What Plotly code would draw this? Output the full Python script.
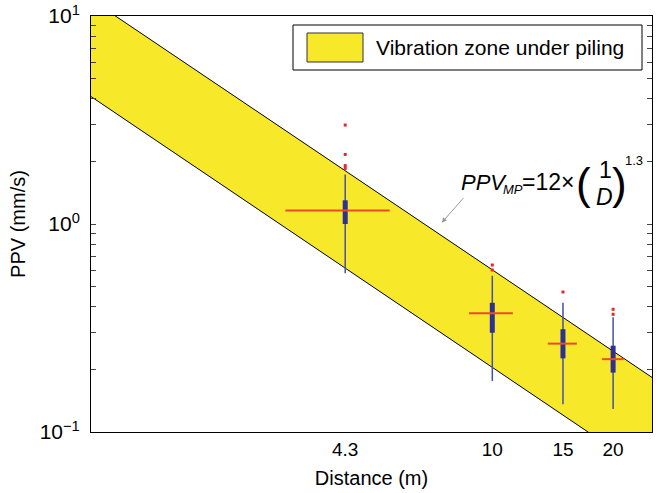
import plotly.graph_objects as go

# vibration zone (band edges read at D = 1 m and D = 25 m)
band_d = [1, 25]
band_upper = [12.0, 0.183]
band_lower = [4.1, 0.062]

# measured PPV statistics per distance
distances = [4.3, 10, 15, 20]
whisker_low = [0.58, 0.176, 0.136, 0.129]
box_low = [1.0, 0.300, 0.226, 0.193]
box_high = [1.30, 0.418, 0.312, 0.260]
whisker_high = [1.73, 0.564, 0.418, 0.356]
mean_ppv = [1.16, 0.372, 0.266, 0.224]
outlier_d = [4.3, 4.3, 4.3, 4.3, 10, 10, 15, 20, 20]
outlier_ppv = [2.99, 2.16, 1.91, 1.85, 0.635, 0.601, 0.471, 0.389, 0.368]

x_ticks = [4.3, 10, 15, 20]
x_tick_text = ['4.3', '10', '15', '20']

MEAN_HALF = 1.25
FONT = 'Liberation Sans, Arial, sans-serif'
YELLOW = '#f8e82a'

# plot area in pixels (body margin is removed below)
L, R, T, B = 91, 652, 16, 432
W, H = 661, 493


def paper(px, py):
    return (px - L) / (R - L), (B - py) / (B - T)


def segments(xs0, xs1, ys0, ys1):
    x, y = [], []
    for a, b, c, d in zip(xs0, xs1, ys0, ys1):
        x += [a, b, None]
        y += [c, d, None]
    return x, y


fig = go.Figure()

fig.add_trace(go.Scatter(x=band_d, y=band_lower, mode='lines',
                         line=dict(color='black', width=1), showlegend=False))
fig.add_trace(go.Scatter(x=band_d, y=band_upper, mode='lines', fill='tonexty',
                         fillcolor=YELLOW, line=dict(color='black', width=1),
                         showlegend=False))

wx, wy = segments(distances, distances, whisker_low, whisker_high)
fig.add_trace(go.Scatter(x=wx, y=wy, mode='lines',
                         line=dict(color='#4450a8', width=1.5), showlegend=False))

bx, by = segments(distances, distances, box_low, box_high)
fig.add_trace(go.Scatter(x=bx, y=by, mode='lines',
                         line=dict(color='#2e3192', width=5), showlegend=False))

mx, my = segments([d - MEAN_HALF for d in distances], [d + MEAN_HALF for d in distances],
                  mean_ppv, mean_ppv)
fig.add_trace(go.Scatter(x=mx, y=my, mode='lines',
                         line=dict(color='#ee4a2a', width=2), showlegend=False))

fig.add_trace(go.Scatter(x=outlier_d, y=outlier_ppv, mode='markers',
                         marker=dict(color='#e8262b', size=3, symbol='square'),
                         showlegend=False))

# y ticks: decades labelled, minor ticks unlabelled
y_tickvals, y_ticktext = [], []
for e in [-1, 0]:
    for m in range(1, 10):
        y_tickvals.append(m * 10 ** e)
        y_ticktext.append('10<sup>%s</sup>' % ('\u22121' if e == -1 else '0') if m == 1 else '')
y_tickvals.append(10)
y_ticktext.append('10<sup>1</sup>')

fig.update_xaxes(type='log', range=[0, 1.39794], tickvals=x_ticks, ticktext=x_tick_text,
                 ticks='', showline=True, linecolor='black', linewidth=1, mirror=True,
                 showgrid=False, zeroline=False, automargin=False,
                 title=dict(text='Distance (m)', font=dict(size=20, family=FONT, color='black'),
                            standoff=12),
                 tickfont=dict(size=19, family=FONT, color='black'))
fig.update_yaxes(type='log', range=[-1, 1], tickvals=y_tickvals, ticktext=y_ticktext,
                 ticks='inside', ticklen=5, tickcolor='#444', showline=True,
                 linecolor='black', linewidth=1, mirror='ticks',
                 showgrid=False, zeroline=False, automargin=False,
                 ticklabelstandoff=6, ticklabeloverflow='allow',
                 title=dict(text='PPV (mm/s)', font=dict(size=20, family=FONT, color='black'),
                            standoff=8),
                 tickfont=dict(size=21, family=FONT, color='black'))

# legend drawn by hand
lx0, ly0 = paper(293, 70)
lx1, ly1 = paper(642, 25)
sx0, sy0 = paper(307, 62)
sx1, sy1 = paper(363, 33)
shapes = [
    dict(type='rect', xref='paper', yref='paper', x0=lx0, y0=ly0, x1=lx1, y1=ly1,
         fillcolor='white', line=dict(color='black', width=1)),
    dict(type='rect', xref='paper', yref='paper', x0=sx0, y0=sy0, x1=sx1, y1=sy1,
         fillcolor=YELLOW, line=dict(color='#333', width=1)),
]

annotations = []


def text_at(px, py, text, size, anchor='left'):
    x, y = paper(px, py)
    annotations.append(dict(xref='paper', yref='paper', x=x, y=y, text=text,
                            showarrow=False, xanchor=anchor, yanchor='middle',
                            borderpad=0,
                            font=dict(size=size, family=FONT, color='black')))


text_at(375, 48, 'Vibration zone under piling', 21)

# formula
text_at(460, 182, '<i>PPV</i>', 22)
text_at(502, 190, '<i>MP</i>', 13)
text_at(521, 182, '=12\u00d7', 23)
text_at(583, 183, '(', 44, 'center')
text_at(605, 170, '1', 23, 'center')
text_at(604, 197, '<i>D</i>', 23, 'center')
text_at(619, 183, ')', 44, 'center')
text_at(624, 160, '1.3', 13)

hx, hy = paper(441.7, 222.7)
annotations.append(dict(xref='paper', yref='paper', x=hx, y=hy, text='',
                        showarrow=True, arrowhead=2, arrowsize=1, arrowwidth=1,
                        arrowcolor='#999999', ax=23, ay=-26))

fig.update_layout(width=W, height=H,
                  margin=dict(l=L, r=W - R, t=T, b=H - B),
                  plot_bgcolor='white', paper_bgcolor='white',
                  shapes=shapes, annotations=annotations, showlegend=False)

fig.write_html('out.html', config={'displayModeBar': False},
               post_script="document.body.style.margin = '0';")
